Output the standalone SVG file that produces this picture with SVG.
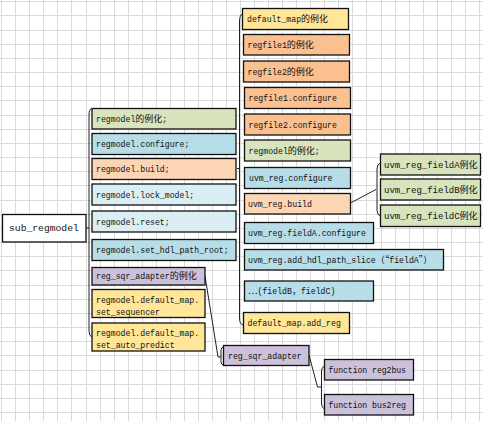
<svg xmlns="http://www.w3.org/2000/svg" width="483" height="421" viewBox="0 0 483 421">
<style>
.grid{stroke:#dadada;stroke-width:1;fill:none}
.box{stroke:#111;stroke-width:1.3}
.t{font-family:"Liberation Mono","Noto Sans CJK SC",monospace;font-size:8.2px;fill:#111}
.c{font-size:9px}
.cj{font-family:"Noto Sans CJK SC",sans-serif;font-size:9px}
.conn{stroke:#222;stroke-width:1;fill:none}
.green{fill:#d7e4bd}.blue{fill:#b7dde8}.peach{fill:#fcd5b5}.lblue{fill:#dbeef4}
.purple{fill:#ccc1da}.yellow{fill:#ffe699}.orange{fill:#fac090}
</style>
<rect width="483" height="421" fill="#fff"/>
<path class="grid" d="M1.5 0V421M15.5 0V421M29.5 0V421M43.5 0V421M57.5 0V421M71.5 0V421M86.5 0V421M100.5 0V421M114.5 0V421M128.5 0V421M142.5 0V421M156.5 0V421M170.5 0V421M184.5 0V421M198.5 0V421M212.5 0V421M226.5 0V421M240.5 0V421M254.5 0V421M268.5 0V421M282.5 0V421M296.5 0V421M310.5 0V421M324.5 0V421M338.5 0V421M352.5 0V421M366.5 0V421M381.5 0V421M395.5 0V421M409.5 0V421M423.5 0V421M437.5 0V421M451.5 0V421M465.5 0V421M479.5 0V421
M0 1.5H483M0 15.5H483M0 30.5H483M0 44.5H483M0 58.5H483M0 72.5H483M0 86.5H483M0 100.5H483M0 115.5H483M0 129.5H483M0 143.5H483M0 157.5H483M0 171.5H483M0 185.5H483M0 200.5H483M0 214.5H483M0 228.5H483M0 242.5H483M0 256.5H483M0 270.5H483M0 285.5H483M0 299.5H483M0 313.5H483M0 327.5H483M0 341.5H483M0 355.5H483M0 370.5H483M0 384.5H483M0 398.5H483M0 412.5H483"/>

<g id="connectors">
<path class="conn" d="M86 228H89M92 108.5Q89 109 89 115V331Q89 336 92 337"/>
<path class="conn" d="M237 168.5H239.5M242.5 14Q239.5 15 239.5 22V318Q239.5 324 243 325"/>
<path class="conn" d="M350.5 203L376 189.5M380.5 163Q377 164 377 169V210Q377 215 380.5 216"/>
<path class="conn" d="M205 276L218 357H221M223.5 347Q221 347.5 221 350V362Q221 364.5 223.5 365"/>
<path class="conn" d="M309 355L317.5 387H321.5M324.5 366Q321.5 367 321.5 371V403Q321.5 408 324.5 409"/>
</g>

<g id="root"><rect class="box" x="2.5" y="214.5" width="83.5" height="27.5" fill="#fff"/><text class="t" x="9" y="231" style="font-size:9.7px">sub_regmodel</text></g>

<g id="n1"><rect class="box green" x="92" y="108.5" width="144" height="20.5"/><text class="t" x="96" y="121.5">regmodel<tspan class="c">的例化</tspan>;</text></g>
<g id="n2"><rect class="box blue" x="92" y="133.5" width="144" height="21"/><text class="t" x="96" y="147">regmodel.configure;</text></g>
<g id="n3"><rect class="box peach" x="92" y="158.5" width="144" height="21"/><text class="t" x="96" y="172">regmodel.build;</text></g>
<g id="n4"><rect class="box lblue" x="92" y="184" width="144" height="21"/><text class="t" x="96" y="197.5">regmodel.lock_model;</text></g>
<g id="n5"><rect class="box lblue" x="92" y="211" width="144" height="21"/><text class="t" x="96" y="224.5">regmodel.reset;</text></g>
<g id="n6"><rect class="box blue" x="92" y="239.5" width="144" height="21"/><text class="t" x="96" y="253">regmodel.set_hdl_path_root;</text></g>
<g id="n7"><rect class="box purple" x="92" y="267.5" width="113" height="17.5"/><text class="t" x="96" y="279">reg_sqr_adapter<tspan class="c">的例化</tspan></text></g>
<g id="n8"><rect class="box yellow" x="92" y="289.5" width="113" height="28"/><text class="t" x="96" y="303">regmodel.default_map.</text><text class="t" x="96" y="314.7">set_sequencer</text></g>
<g id="n9"><rect class="box yellow" x="92" y="323" width="113" height="28"/><text class="t" x="96" y="335.7">regmodel.default_map.</text><text class="t" x="96" y="348">set_auto_predict</text></g>

<g id="r1"><rect class="box yellow" x="242.5" y="8.5" width="106" height="21"/><text class="t" x="247" y="22">default_map<tspan class="c">的例化</tspan></text></g>
<g id="r2"><rect class="box orange" x="243.5" y="34.5" width="106" height="20.5"/><text class="t" x="247.5" y="47.7">regfile1<tspan class="c">的例化</tspan></text></g>
<g id="r3"><rect class="box orange" x="243.5" y="61" width="106" height="21"/><text class="t" x="247.5" y="74.5">regfile2<tspan class="c">的例化</tspan></text></g>
<g id="r4"><rect class="box orange" x="244.5" y="87.5" width="106" height="21"/><text class="t" x="248.5" y="101">regfile1.configure</text></g>
<g id="r5"><rect class="box orange" x="244.5" y="114" width="106" height="21"/><text class="t" x="248.5" y="127.5">regfile2.configure</text></g>
<g id="r6"><rect class="box green" x="244.5" y="140" width="106" height="21"/><text class="t" x="248.5" y="153.5">regmodel<tspan class="c">的例化</tspan>;</text></g>
<g id="r7"><rect class="box blue" x="244.5" y="167.5" width="106" height="21"/><text class="t" x="249" y="181">uvm_reg.configure</text></g>
<g id="r8"><rect class="box peach" x="244.5" y="193.5" width="106" height="20.5"/><text class="t" x="248" y="206.7">uvm_reg.build</text></g>
<g id="r9"><rect class="box blue" x="244.5" y="222.5" width="129" height="21"/><text class="t" x="248" y="236">uvm_reg.fieldA.configure</text></g>
<g id="r10"><rect class="box blue" x="244.5" y="249.5" width="199" height="20.5"/><text class="t" x="248" y="262.7">uvm_reg.add_hdl_path_slice<tspan class="cj">（“</tspan>fieldA<tspan class="cj">”）</tspan></text></g>
<g id="r11"><rect class="box blue" x="244.5" y="281" width="129" height="20"/><text class="t" x="248" y="294"><tspan class="cj">…</tspan>(fieldB<tspan class="cj">，</tspan>fieldC)</text></g>
<g id="r12"><rect class="box yellow" x="243.5" y="312.5" width="106" height="21"/><text class="t" x="247.5" y="326">default_map.add_reg</text></g>

<g id="f1"><rect class="box green" x="380.5" y="154" width="100" height="21"/><text class="t" x="384" y="167.5" style="font-size:9px">uvm_reg_fieldA例化</text></g>
<g id="f2"><rect class="box green" x="380.5" y="179" width="100" height="21"/><text class="t" x="384" y="192.5" style="font-size:9px">uvm_reg_fieldB例化</text></g>
<g id="f3"><rect class="box green" x="380.5" y="205" width="100" height="21.5"/><text class="t" x="384" y="218.7" style="font-size:9px">uvm_reg_fieldC例化</text></g>

<g id="a1"><rect class="box purple" x="223.5" y="345.5" width="85.5" height="20"/><text class="t" x="228" y="358.5">reg_sqr_adapter</text></g>
<g id="a2"><rect class="box purple" x="324.5" y="359.5" width="89" height="20.5"/><text class="t" x="328.5" y="372.7" textLength="77.5" lengthAdjust="spacing">function reg2bus</text></g>
<g id="a3"><rect class="box purple" x="324.5" y="394.5" width="89" height="20.5"/><text class="t" x="328.5" y="407.7" textLength="77.5" lengthAdjust="spacing">function bus2reg</text></g>
</svg>
